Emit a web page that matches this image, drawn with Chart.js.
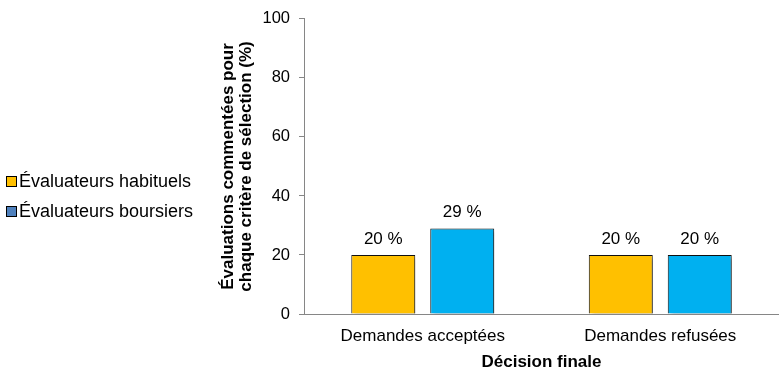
<!DOCTYPE html>
<html>
<head>
<meta charset="utf-8">
<script src="https://cdn.jsdelivr.net/npm/chart.js@4/dist/chart.umd.min.js"></script>
<style>
  html, body { margin: 0; padding: 0; background: #fff; }
  #wrap { width: 779px; height: 372px; }
</style>
</head>
<body>
<div id="wrap"><canvas id="chart"></canvas></div>
<script>
const categories = ['Demandes acceptées', 'Demandes refusées'];
const habituels = [20, 20];
const boursiers = [29, 20];
const yTicks = [0, 20, 40, 60, 80, 100];
const seriesNames = ['Évaluateurs habituels', 'Évaluateurs boursiers'];
const legendColors = ['#FFC000', '#4F81BD'];

const FONT = '"Liberation Sans", Arial, sans-serif';

// bars get a soft drop shadow like the original
const shadowPlugin = {
  id: 'shadow',
  beforeDatasetsDraw(chart) {
    const ctx = chart.ctx;
    ctx.save();
    ctx.shadowColor = 'rgba(0,0,0,0.35)';
    ctx.shadowBlur = 4;
    ctx.shadowOffsetX = 3;
    ctx.shadowOffsetY = 3;
  },
  afterDatasetsDraw(chart) {
    chart.ctx.restore();
  }
};

// "20 %" labels above each bar
const valueLabels = {
  id: 'valueLabels',
  afterDatasetsDraw(chart) {
    const ctx = chart.ctx;
    ctx.save();
    ctx.font = '17px ' + FONT;
    ctx.fillStyle = '#000';
    ctx.textAlign = 'center';
    ctx.textBaseline = 'middle';
    chart.data.datasets.forEach((ds, i) => {
      chart.getDatasetMeta(i).data.forEach((bar, j) => {
        ctx.fillText(ds.data[j] + ' %', bar.x, bar.y - 16);
      });
    });
    ctx.restore();
  }
};

// legend on the far left
const sideLegend = {
  id: 'sideLegend',
  afterDraw(chart) {
    const ctx = chart.ctx;
    ctx.save();
    ctx.font = '18px ' + FONT;
    ctx.textBaseline = 'middle';
    seriesNames.forEach((name, i) => {
      const y = 181 + i * 30;
      ctx.fillStyle = legendColors[i];
      ctx.fillRect(7, y - 4, 9, 9);
      ctx.strokeStyle = '#000';
      ctx.lineWidth = 1;
      ctx.strokeRect(6.5, y - 4.5, 10, 10);
      ctx.fillStyle = '#000';
      ctx.fillText(name, 19, y + 1);
    });
    ctx.restore();
  }
};

new Chart(document.getElementById('chart'), {
  type: 'bar',
  data: {
    labels: categories,
    datasets: [
      {
        label: seriesNames[0],
        data: habituels,
        backgroundColor: '#FFC000',
        borderColor: '#111',
        borderWidth: 1
      },
      {
        label: seriesNames[1],
        data: boursiers,
        backgroundColor: '#00B0F0',
        borderColor: '#111',
        borderWidth: 1
      }
    ]
  },
  options: {
    responsive: true,
    maintainAspectRatio: false,
    animation: false,
    categoryPercentage: 0.665,
    barPercentage: 0.81,
    layout: { padding: { left: 219, top: 17, right: 0, bottom: 0 } },
    plugins: {
      legend: { display: false },
      tooltip: { enabled: false }
    },
    scales: {
      x: {
        afterFit: scale => { scale.height = 58; },
        ticks: {
          font: { family: FONT, size: 17 },
          color: '#000',
          padding: 12,
          maxRotation: 0,
          autoSkip: false
        },
        grid: { display: false, drawTicks: false },
        border: { display: true, color: '#868686' },
        title: {
          display: true,
          text: 'Décision finale',
          font: { family: FONT, size: 17, weight: 'bold', lineHeight: 1.1 },
          color: '#000',
          padding: { top: 0, bottom: 0 }
        }
      },
      y: {
        min: 0,
        max: 100,
        afterBuildTicks: scale => { scale.ticks = yTicks.map(v => ({ value: v })); },
        afterFit: scale => { scale.width = 85; },
        ticks: {
          font: { family: FONT, size: 16.5 },
          color: '#000',
          padding: 9
        },
        grid: { display: true, drawOnChartArea: false, drawTicks: true, tickLength: 5, color: '#868686' },
        border: { display: true, color: '#868686' },
        title: {
          display: true,
          text: ['Évaluations commentées pour', 'chaque critère de sélection (%)'],
          font: { family: FONT, size: 17, weight: 'bold', lineHeight: 1.06 },
          color: '#000',
          padding: { top: 0, bottom: 0 }
        }
      }
    }
  },
  plugins: [shadowPlugin, valueLabels, sideLegend]
});
</script>
</body>
</html>
